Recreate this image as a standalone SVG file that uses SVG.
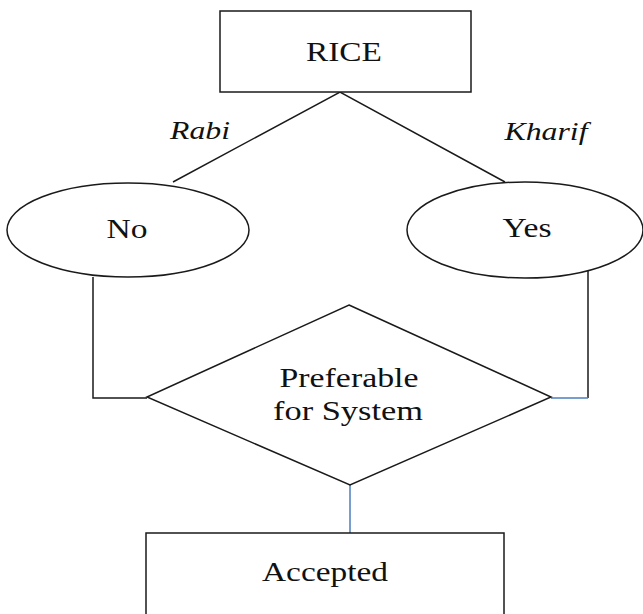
<svg xmlns="http://www.w3.org/2000/svg" width="643" height="614" viewBox="0 0 643 614">
<style>
.s{fill:#fff;stroke:#1a1a1a;stroke-width:1.5}
.c{fill:none;stroke:#1a1a1a;stroke-width:1.5}
.b{fill:none;stroke:#4a7ebb;stroke-width:1.5}
text{font-family:'Liberation Serif','Times New Roman',Times,serif;fill:#111;text-anchor:middle}
.t{font-size:27px}
.i{font-size:25px;font-style:italic}
</style>
<rect width="643" height="614" fill="#fff"/>
<g id="connectors">
<polyline class="c" points="173,182 340,92 505,182"/>
<polyline class="c" points="93,277 93,398 147,398"/>
<polyline class="c" points="588,269 588,398"/>
<line class="b" x1="551" y1="398" x2="588" y2="398"/>
<line class="b" x1="350" y1="485" x2="350" y2="533"/>
<text class="i" x="200" y="139" textLength="60" lengthAdjust="spacingAndGlyphs">Rabi</text>
<text class="i" x="546" y="140" textLength="83" lengthAdjust="spacingAndGlyphs">Kharif</text>
</g>
<g id="rice">
<rect class="s" x="220" y="11" width="251" height="81"/>
<text class="t" x="344" y="61" textLength="76" lengthAdjust="spacingAndGlyphs">RICE</text>
</g>
<g id="no">
<ellipse class="s" cx="128" cy="230" rx="121" ry="47"/>
<text class="t" x="127" y="238" textLength="41" lengthAdjust="spacingAndGlyphs">No</text>
</g>
<g id="yes">
<ellipse class="s" cx="525" cy="230" rx="118" ry="48"/>
<text class="t" x="527" y="237" textLength="49" lengthAdjust="spacingAndGlyphs">Yes</text>
</g>
<g id="decision">
<polygon class="s" points="349,305 551,397 350,485 147,397"/>
<text class="t" x="349" y="387" textLength="139" lengthAdjust="spacingAndGlyphs">Preferable</text>
<text class="t" x="348" y="420" textLength="150" lengthAdjust="spacingAndGlyphs">for System</text>
</g>
<g id="accepted">
<rect class="s" x="146" y="533" width="358" height="100"/>
<text class="t" x="325" y="581" textLength="126" lengthAdjust="spacingAndGlyphs">Accepted</text>
</g>
</svg>
